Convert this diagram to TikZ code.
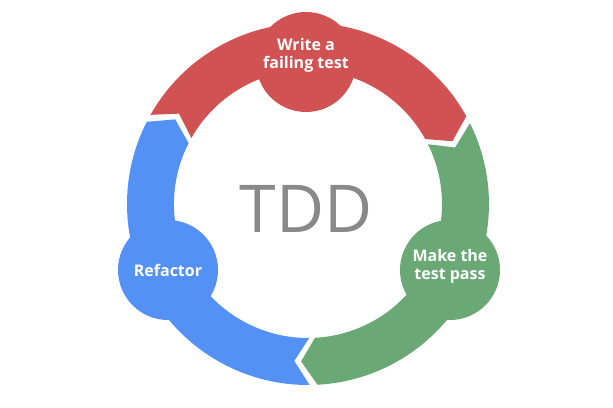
\documentclass[tikz,border=0pt]{standalone}
\usepackage{fontspec}
\setmainfont{Open Sans}
\definecolor{stepred}{RGB}{208,82,82}
\definecolor{stepgreen}{RGB}{106,168,118}
\definecolor{stepblue}{RGB}{84,145,245}
\definecolor{titlegray}{RGB}{137,137,137}
% ring geometry (pt)
\def\ringin{134pt}
\def\ringout{181pt}
\def\ringmid{157.5pt}
\def\chevdepth{5.5}
% one chevron-ended band of the cycle, running clockwise from #2 to #3
\newcommand\cycleband[3]{%
  \fill[#1] (#2:\ringout) arc[start angle=#2, end angle=#3, radius=\ringout]
    -- ({#3-\chevdepth}:\ringmid) -- (#3:\ringin)
    arc[start angle=#3, end angle=#2, radius=\ringin]
    -- ({#2-\chevdepth}:\ringmid) -- cycle;}
\begin{document}
\begin{tikzpicture}[x=1pt,y=1pt,
  stage/.style={circle, fill=#1, draw=none, inner sep=0pt, minimum size=100pt},
  lbl/.style={text=white, align=center, inner sep=0pt,
    font=\fontsize{16}{18}\selectfont\bfseries}]
\useasboundingbox (0,0) rectangle (613,407);

% the three bands of the cycle
\begin{scope}[shift={(308,203)}]
  \cycleband{stepred}{150.5}{29}
  \cycleband{stepgreen}{26.5}{-87}
  \cycleband{stepblue}{-89.5}{-207}
\end{scope}

% stage discs
\node[stage=stepred]   (write)    at (306,345) {};
\node[stage=stepgreen] (pass)     at (450,137) {};
\node[stage=stepblue]  (refactor) at (168,137) {};

% stage labels
\node[lbl] (writetxt)    at ([yshift=7]write.center)    {Write a\\failing test};
\node[lbl] (passtxt)     at ([yshift=4]pass.center)     {Make the\\test pass};
\node[lbl] (refactortxt) at (refactor.center)           {Refactor};

% title in the middle
\node[text=titlegray, inner sep=0pt, font=\fontsize{66}{66}\selectfont] (title) at (306,198.5) {TDD};
\end{tikzpicture}
\end{document}
